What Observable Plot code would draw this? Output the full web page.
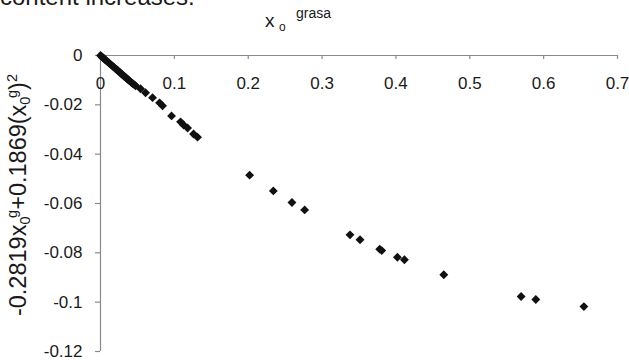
<!DOCTYPE html>
<html><head><meta charset="utf-8">
<script src="https://cdn.jsdelivr.net/npm/d3@7"></script>
<script src="https://cdn.jsdelivr.net/npm/@observablehq/plot@0.6"></script>
<style>
body{margin:0;background:#fff;font-family:"Liberation Sans",Arial,sans-serif;color:#1a1a1a;}
#wrap{position:relative;width:629px;height:360px;overflow:hidden;}
#chart{position:absolute;left:0;top:0;}
.t{position:absolute;white-space:nowrap;line-height:1;}
.ytitle{position:absolute;left:19px;top:195px;transform:translate(-50%,-50%) rotate(-90deg);white-space:nowrap;font-size:23.5px;line-height:1;}
.ytitle .sb{font-size:0.62em;position:relative;top:0.3em;}
.ytitle .sp{font-size:0.62em;position:relative;top:-0.6em;}
</style></head><body>
<div id="wrap">
<div id="chart"></div>
<div class="t" style="left:0px;top:-15px;font-size:24px;">content increases.</div>
<div class="t" style="left:265px;top:10.9px;font-size:19px;">x</div>
<div class="t" style="left:279px;top:21px;font-size:12px;">o</div>
<div class="t" style="left:296px;top:6.2px;font-size:14px;">grasa</div>
<div class="ytitle">-0.2819x<span class="sb">0</span><span class="sp" style="margin-left:-0.1em">g</span>+0.1869(x<span class="sb">0</span><span class="sp" style="margin-left:-0.1em">g</span>)<span class="sp">2</span></div>
</div>
<script>
const xValues = [0, 0.0015, 0.003, 0.0045, 0.006, 0.0075, 0.009, 0.011, 0.0125, 0.014,
  0.016, 0.0175, 0.019, 0.021, 0.0225, 0.024, 0.026, 0.0275, 0.029, 0.031,
  0.0325, 0.034, 0.036, 0.0375, 0.039, 0.041, 0.0425, 0.044, 0.046, 0.0475,
  0.0542, 0.061, 0.0705, 0.080, 0.084, 0.0962, 0.1084, 0.1125, 0.1179, 0.126, 0.1314,
  0.2019, 0.234, 0.2592, 0.2764, 0.3378, 0.3514, 0.378, 0.3808, 0.402, 0.4115,
  0.4648, 0.5695, 0.5894, 0.6545];
const yValues = [0, -0.0004, -0.0008, -0.0012, -0.0016, -0.0020, -0.0024, -0.0029, -0.0033, -0.0037,
  -0.0042, -0.0046, -0.0050, -0.0055, -0.0059, -0.0063, -0.0068, -0.0072, -0.0076, -0.0081,
  -0.0085, -0.0089, -0.0094, -0.0098, -0.0102, -0.0107, -0.0111, -0.0115, -0.0119, -0.0123,
  -0.0135, -0.0151, -0.0171, -0.0192, -0.0204, -0.0245, -0.0269, -0.0282, -0.0294, -0.0318, -0.0331,
  -0.0485, -0.0549, -0.0596, -0.0626, -0.0727, -0.0747, -0.0785, -0.0791, -0.0818, -0.0828,
  -0.0889, -0.0977, -0.0989, -0.1018];
const xTicks = [0, 0.1, 0.2, 0.3, 0.4, 0.5, 0.6, 0.7];
const xTickLabels = ["0", "0.1", "0.2", "0.3", "0.4", "0.5", "0.6", "0.7"];
const yTicks = [0, -0.02, -0.04, -0.06, -0.08, -0.1, -0.12];
const yTickLabels = ["0", "-0.02", "-0.04", "-0.06", "-0.08", "-0.1", "-0.12"];

const points = xValues.map((x, i) => ({x, y: yValues[i]}));
const diamond = {
  draw(ctx, size) {
    const s = Math.sqrt(size) * 0.62625;
    ctx.moveTo(0, -s); ctx.lineTo(s, 0); ctx.lineTo(0, s); ctx.lineTo(-s, 0); ctx.closePath();
  }
};
const axisGray = "#8a8a8a";
const textCol = "#1a1a1a";

const chart = Plot.plot({
  width: 629, height: 360,
  marginLeft: 100, marginRight: 12, marginTop: 55, marginBottom: 9,
  x: {domain: [0, 0.7], axis: null},
  y: {domain: [-0.12, 0], axis: null},
  style: {fontFamily: "'Liberation Sans', Arial, sans-serif", fontSize: "17px", background: "transparent", color: textCol},
  marks: [
    Plot.ruleX([0], {stroke: axisGray, strokeWidth: 1.2}),
    Plot.ruleY(yTicks, {y: d => d, x1: 0, x2: 0, insetLeft: -5, stroke: axisGray, strokeWidth: 1.2}),
    Plot.text(yTicks, {y: d => d, frameAnchor: "left", dx: -18, textAnchor: "end", text: (d, i) => yTickLabels[i], fill: textCol, fontSize: 17}),
    Plot.ruleY([0], {stroke: axisGray, strokeWidth: 1.2}),
    Plot.ruleX(xTicks, {x: d => d, y1: 0, y2: 0, insetBottom: -4, stroke: axisGray, strokeWidth: 1.2}),
    Plot.text(xTicks, {x: d => d, y: 0, dy: 28, text: (d, i) => xTickLabels[i], fill: textCol, fontSize: 17}),
    Plot.dot(points, {x: "x", y: "y", symbol: diamond, r: 4, fill: "#111", stroke: "none"})
  ]
});
document.getElementById("chart").appendChild(chart);
</script>
</body></html>
